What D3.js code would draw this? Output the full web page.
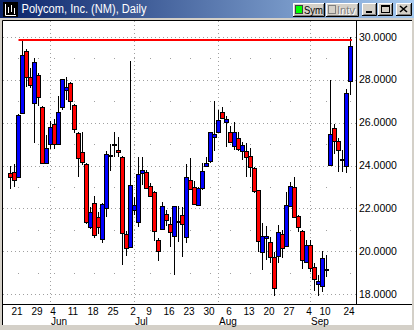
<!DOCTYPE html>
<html>
<head>
<meta charset="utf-8">
<script src="https://cdn.jsdelivr.net/npm/d3@7"></script>
<style>
body { margin: 0; background: #d4d0c8; }
svg { display: block; font-family: "Liberation Sans", Arial, sans-serif; }
</style>
</head>
<body>
<svg id="chart"></svg>
<script>
var width = 414, height = 330

// trading days, 2001
var dates = ["5/17","5/18","5/21","5/22","5/23","5/24","5/25","5/29","5/30","5/31",
    "6/1","6/4","6/5","6/6","6/7","6/8","6/11","6/12","6/13","6/14",
    "6/15","6/18","6/19","6/20","6/21","6/22","6/25","6/26","6/27","6/28",
    "6/29","7/2","7/3","7/5","7/6","7/9","7/10","7/11","7/12","7/13",
    "7/16","7/17","7/18","7/19","7/20","7/23","7/24","7/25","7/26","7/27",
    "7/30","7/31","8/1","8/2","8/3","8/6","8/7","8/8","8/9","8/10",
    "8/13","8/14","8/15","8/16","8/17","8/20","8/21","8/22","8/23","8/24",
    "8/27","8/28","8/29","8/30","8/31","9/4","9/5","9/6","9/7","9/10",
    "9/17","9/18","9/19","9/20","9/21","9/24"]

var open = [23.64,23.68,23.48,26.43,29.35,28.14,26.9,28.22,26.71,24.1,
    24.99,25.92,24.99,26.71,27.5,27.83,26.8,25.5,24.63,24.07,
    21.12,22.24,21.62,20.56,22.0,24.5,25.02,24.72,24.38,20.81,
    20.22,21.93,21.39,23.67,23.68,23.06,22.75,20.53,21.04,21.74,
    21.28,20.73,21.4,21.68,20.69,23.31,22.98,22.18,22.97,23.99,
    24.23,25.31,25.58,26.48,26.01,25.55,24.93,25.27,24.69,24.69,
    24.44,23.87,22.86,19.95,20.61,20.42,19.72,19.8,20.8,20.27,
    22.11,23.0,21.65,20.95,19.49,20.3,19.26,18.48,18.4,19.18,
    24.02,25.73,25.16,24.3,23.99,27.95]
var high = [24.0,24.06,26.4,29.85,29.42,28.53,29.0,28.3,26.75,25.42,
    26.09,26.18,27.24,28.05,28.14,27.9,26.85,25.58,25.58,24.1,
    22.05,22.6,21.85,22.25,24.69,24.99,25.58,25.31,24.45,20.95,
    28.88,22.55,24.41,24.41,23.79,23.17,22.8,20.61,22.32,21.93,
    21.62,22.11,22.11,22.08,24.07,24.37,23.3,23.0,24.1,24.41,
    25.58,27.0,26.59,26.71,26.3,25.82,26.01,25.55,25.11,25.06,
    24.8,23.95,22.86,21.3,21.2,20.69,19.98,21.23,21.0,22.78,
    23.25,23.48,21.7,21.0,20.53,20.53,19.45,18.9,20.02,19.83,
    27.98,25.92,25.3,24.72,27.55,30.0]
var low = [22.9,22.98,23.42,26.38,27.64,27.6,25.07,26.77,24.05,24.05,
    24.77,24.75,24.95,26.59,27.05,26.59,25.53,23.48,24.02,21.28,
    21.05,20.6,20.81,20.4,21.62,23.76,24.41,24.38,19.37,19.8,
    20.19,21.7,21.15,23.09,22.9,22.55,20.5,19.57,21.0,21.18,
    20.19,18.9,20.45,19.75,20.41,22.9,22.2,22.15,22.86,23.94,
    24.1,24.69,25.55,26.15,24.88,25.04,24.72,24.69,24.26,23.48,
    23.45,22.74,19.99,19.13,19.6,19.45,17.9,19.45,19.68,20.2,
    22.05,21.55,20.89,19.18,19.45,19.06,18.17,17.9,18.12,18.82,
    23.98,24.55,23.71,23.71,23.67,27.29]
var close = [23.48,23.31,26.35,29.15,28.11,27.74,28.81,27.18,24.1,24.8,
    25.81,24.99,26.48,28.02,27.64,26.99,25.69,24.34,24.18,21.39,
    21.85,20.76,21.15,22.19,24.52,24.46,25.0,24.61,20.84,20.14,
    23.09,22.16,23.61,23.79,22.94,22.6,20.97,20.03,22.11,21.46,
    20.92,22.11,21.38,21.29,23.47,22.92,22.22,22.94,23.75,24.1,
    25.55,25.45,26.12,26.2,26.15,25.08,25.55,24.77,24.94,24.38,
    23.95,22.83,20.5,20.73,20.73,19.72,18.28,20.89,20.14,22.16,
    23.05,21.62,21.15,19.6,20.3,19.21,18.7,18.64,19.68,19.2,
    25.45,25.16,24.72,24.28,27.36,29.57]

var yTicks = [18, 20, 22, 24, 26, 28, 30]
var yGrid = [18, 19, 20, 21, 22, 23, 24, 25, 26, 27, 28, 29, 30]
var dayTicks = ["5/21","5/29","6/4","6/11","6/18","6/25","7/2","7/9","7/16","7/23",
    "7/30","8/6","8/13","8/20","8/27","9/4","9/10","9/24"]
var monthTicks = ["6/1","7/2","8/1","9/4"]
var monthNames = ["Jun","Jul","Aug","Sep"]
var resLevel = 29.85, resFrom = "5/21", resTo = "9/24"
var title = "Polycom, Inc. (NM), Daily"

var svg = d3.select("#chart")
    .attr("width", width)
    .attr("height", height)

var x = d3.scalePoint()
    .domain(dates)
    .range([10.5, 350.5])
var y = d3.scaleLinear()
    .domain([18, 30])
    .range([294.3, 36.7])
var px = function(v) { return Math.round(y(v)) + 0.5 }

// ---- window chrome
var grad = svg.append("defs").append("linearGradient")
    .attr("id", "cap").attr("x1", 0).attr("x2", 1).attr("y1", 0).attr("y2", 0)
grad.append("stop").attr("offset", 0).attr("stop-color", "#0a246a")
grad.append("stop").attr("offset", 1).attr("stop-color", "#a6caf0")

svg.append("rect").attr("width", width).attr("height", height).attr("fill", "#d4d0c8")
svg.append("rect").attr("x", 0).attr("y", 0).attr("width", width).attr("height", 18)
    .attr("fill", "url(#cap)")

// icon
svg.append("rect").attr("x", 3).attr("y", 2).attr("width", 15).attr("height", 15).attr("fill", "#000")
svg.append("path")
    .attr("d", "M5.5,4V15.5H16 M8.5,7V13 M11.5,5V12 M14.5,8V14")
    .attr("stroke", "#fff").attr("fill", "none")

svg.append("text")
    .attr("x", 21.5).attr("y", 13)
    .attr("fill", "#fff")
    .style("font-size", "12px")
    .attr("textLength", 125).attr("lengthAdjust", "spacingAndGlyphs")
    .text(title)

function button(bx, by, bw, bh) {
    var b = svg.append("g")
    b.append("rect").attr("x", bx).attr("y", by).attr("width", bw).attr("height", bh).attr("fill", "#d4d0c8")
    b.append("path").attr("d", "M" + (bx + 0.5) + "," + (by + bh - 1) + "V" + (by + 0.5) + "H" + (bx + bw - 1))
        .attr("stroke", "#fff").attr("fill", "none")
    b.append("path").attr("d", "M" + (bx + 1.5) + "," + (by + bh - 1.5) + "H" + (bx + bw - 1.5) + "V" + (by + 1))
        .attr("stroke", "#808080").attr("fill", "none")
    b.append("path").attr("d", "M" + bx + "," + (by + bh - 0.5) + "H" + (bx + bw - 0.5) + "V" + by)
        .attr("stroke", "#000").attr("fill", "none")
    return b
}

var sym = button(293, 3, 32, 14)
sym.append("rect").attr("x", 295.5).attr("y", 5.5).attr("width", 7).attr("height", 8)
    .attr("fill", "#00ff00").attr("stroke", "#404040")
sym.append("text").attr("x", 304).attr("y", 14).style("font-size", "11px").attr("fill", "#000")
    .attr("textLength", 19).attr("lengthAdjust", "spacingAndGlyphs").text("Sym")

var intv = button(326, 3, 33, 14)
intv.append("rect").attr("x", 328.5).attr("y", 5.5).attr("width", 7).attr("height", 8)
    .attr("fill", "#d4d0c8").attr("stroke", "#808080")
intv.append("text").attr("x", 338).attr("y", 15).style("font-size", "11px").attr("fill", "#fff")
    .attr("textLength", 18).attr("lengthAdjust", "spacingAndGlyphs").text("Intv")
intv.append("text").attr("x", 337).attr("y", 14).style("font-size", "11px").attr("fill", "#808080")
    .attr("textLength", 18).attr("lengthAdjust", "spacingAndGlyphs").text("Intv")

var bmin = button(362, 3, 15, 13)
bmin.append("rect").attr("x", 366).attr("y", 11).attr("width", 6).attr("height", 2).attr("fill", "#000")
var bmax = button(378, 3, 15, 13)
bmax.append("rect").attr("x", 381.5).attr("y", 5.5).attr("width", 8).attr("height", 7)
    .attr("fill", "none").attr("stroke", "#000")
bmax.append("line").attr("x1", 381).attr("x2", 390).attr("y1", 6.5).attr("y2", 6.5).attr("stroke", "#000")
var bclose = button(396, 3, 16, 13)
bclose.append("path").attr("d", "M400,6L407,12 M407,6L400,12")
    .attr("stroke", "#000").attr("stroke-width", 1.6)

// chart panel
svg.append("rect").attr("x", 3).attr("y", 21).attr("width", 409).attr("height", 304).attr("fill", "#fff")
svg.append("path").attr("d", "M2.5,325V20.5H412").attr("stroke", "#000").attr("fill", "none")

var g = svg.append("g")

// grid
g.selectAll("line.hgrid")
    .data(yGrid.filter(function(v) { return v % 2 == 0 }))
    .enter().append("line")
    .attr("x1", 3).attr("x2", 356)
    .attr("y1", px).attr("y2", px)
    .attr("stroke", "#a0a0a0").attr("stroke-dasharray", "1,3")

var dots = []
yGrid.filter(function(v) { return v % 2 == 1 }).forEach(function(v) {
    dayTicks.forEach(function(d) { dots.push([d, v]) })
})
g.selectAll("rect.dot")
    .data(dots)
    .enter().append("rect")
    .attr("x", function(d) { return x(d[0]) - 0.5 })
    .attr("y", function(d) { return px(d[1]) - 0.5 })
    .attr("width", 1).attr("height", 1)
    .attr("fill", "#a0a0a0")

g.selectAll("line.vgrid")
    .data(monthTicks)
    .enter().append("line")
    .attr("x1", function(d) { return x(d) }).attr("x2", function(d) { return x(d) })
    .attr("y1", 21).attr("y2", 304)
    .attr("stroke", "#a0a0a0").attr("stroke-dasharray", "1,3")

// axes
g.append("line").attr("x1", 356.5).attr("x2", 356.5).attr("y1", 21).attr("y2", 304.5).attr("stroke", "#000")
g.append("line").attr("x1", 3).attr("x2", 412).attr("y1", 304.5).attr("y2", 304.5).attr("stroke", "#000")

g.selectAll("text.ylab")
    .data(yTicks)
    .enter().append("text")
    .attr("x", 359)
    .attr("y", function(d) { return y(d) + 3.8 })
    .style("font-size", "10.5px")
    .attr("fill", "#000")
    .text(function(d) { return d3.format(".4f")(d) })

g.selectAll("text.day")
    .data(dayTicks)
    .enter().append("text")
    .attr("x", function(d) { return x(d) - 1.5 })
    .attr("y", 314.5)
    .attr("text-anchor", "middle")
    .style("font-size", "10px")
    .attr("fill", "#000")
    .text(function(d) { return d.split("/")[1] })

g.selectAll("text.month")
    .data(monthTicks)
    .enter().append("text")
    .attr("x", function(d) { return x(d) + 0.5 })
    .attr("y", 324.5)
    .style("font-size", "10px")
    .attr("fill", "#000")
    .text(function(d, i) { return monthNames[i] })

// candles
var bars = dates.map(function(d, i) {
    return {date: d, o: open[i], h: high[i], l: low[i], c: close[i]}
})

g.selectAll("line.wick")
    .data(bars)
    .enter().append("line")
    .attr("x1", function(d) { return x(d.date) })
    .attr("x2", function(d) { return x(d.date) })
    .attr("y1", function(d) { return Math.round(y(d.h)) })
    .attr("y2", function(d) { return Math.round(y(d.l)) })
    .attr("stroke", "#000")

g.selectAll("rect.body")
    .data(bars)
    .enter().append("rect")
    .attr("x", function(d) { return x(d.date) - 2 })
    .attr("width", 4)
    .attr("y", function(d) { return px(Math.max(d.o, d.c)) })
    .attr("height", function(d) { return Math.max(1, px(Math.min(d.o, d.c)) - px(Math.max(d.o, d.c))) })
    .attr("fill", function(d) { return d.c >= d.o ? "#0000ff" : "#ff0000" })
    .attr("stroke", "#000")

// resistance line
g.append("line")
    .attr("x1", x(resFrom)).attr("x2", x(resTo) + 1.5)
    .attr("y1", Math.round(y(resLevel))).attr("y2", Math.round(y(resLevel)))
    .attr("stroke", "#ff0000").attr("stroke-width", 2)
</script>
</body>
</html>
